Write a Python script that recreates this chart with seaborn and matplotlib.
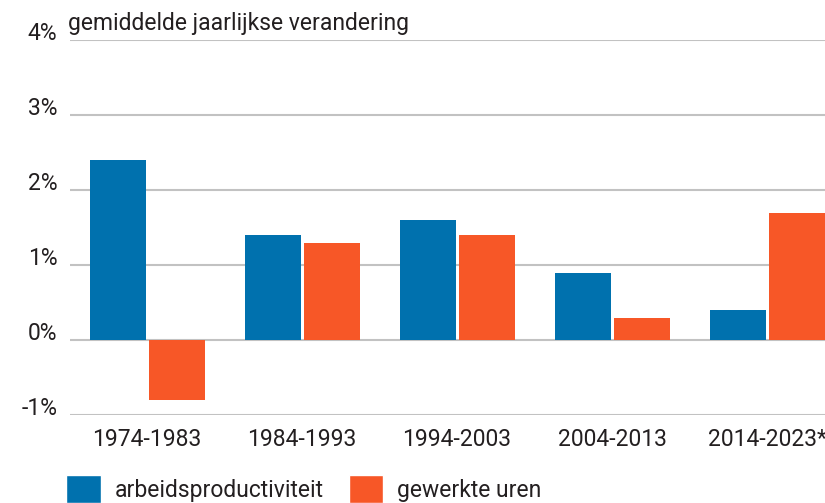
import numpy as np
import pandas as pd
import matplotlib
matplotlib.use("Agg")
import matplotlib.pyplot as plt
from matplotlib.patches import Patch
import seaborn as sns

# data
periods = ["1974-1983", "1984-1993", "1994-2003", "2004-2013", "2014-2023*"]
productivity = [2.4, 1.4, 1.6, 0.9, 0.4]
hours_worked = [-0.8, 1.3, 1.4, 0.3, 1.7]
series_names = ["arbeidsproductiviteit", "gewerkte uren"]
y_ticks = [-1, 0, 1, 2, 3, 4]

blue = "#0071AE"
orange = "#F75727"
text_col = "#231f20"
fs = 16.5

sns.set_style("white")
plt.rcParams['font.family'] = ['Roboto', 'DejaVu Sans']
plt.rcParams['text.color'] = text_col

df = pd.DataFrame({
    'periode': periods * 2,
    'reeks': [series_names[0]] * len(periods) + [series_names[1]] * len(periods),
    'waarde': productivity + hours_worked,
})

fig = plt.figure(figsize=(8.25, 5.03), dpi=100)
ax = fig.add_axes([70 / 825, 1 - 415 / 503, 1 - 70 / 825, 375 / 503])

sns.barplot(data=df, x='periode', y='waarde', hue='reeks',
            palette=[blue, orange], width=0.761, gap=0.051,
            saturation=1, legend=False, ax=ax, zorder=3, linewidth=0)

ax.set_ylim(-1, 4)
ax.set_xlim(-0.497, 4.374)
ax.set_yticks(y_ticks)
ax.set_yticklabels([f"{t}%" for t in y_ticks])
ax.set_xlabel("")
ax.set_ylabel("")
ax.grid(axis='y', color='#c2c2c2', linewidth=1.5, zorder=0)
ax.set_axisbelow(True)
for s in ax.spines.values():
    s.set_visible(False)
ax.tick_params(axis='y', length=0, pad=9, labelsize=fs, labelcolor=text_col)
ax.tick_params(axis='x', length=0, pad=9, labelsize=fs, labelcolor=text_col)
for lbl in ax.get_yticklabels():
    lbl.set_verticalalignment('baseline')

fig.text(68 / 825, 1 - 30 / 503, "gemiddelde jaarlijkse verandering",
         fontsize=fs, color=text_col, va='baseline', ha='left')

handles = [Patch(facecolor=blue), Patch(facecolor=orange)]
fig.legend(handles, series_names, loc='center left',
           bbox_to_anchor=(57 / 825, 1 - 489 / 503), ncol=2, frameon=False,
           fontsize=fs, handlelength=1.5, handleheight=1.45,
           handletextpad=0.6, columnspacing=1.1, borderaxespad=0)

fig.savefig("out.png", dpi=100)
